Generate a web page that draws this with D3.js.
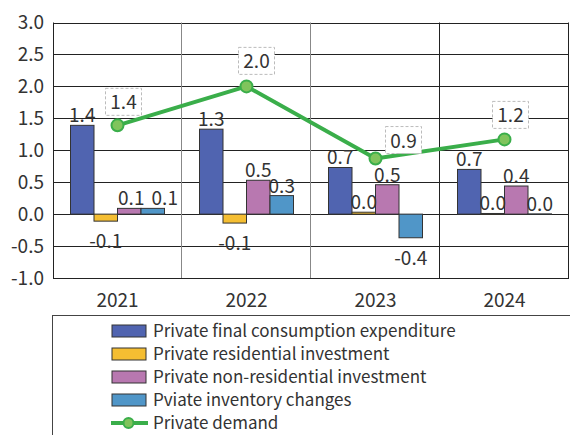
<!DOCTYPE html>
<html>
<head>
<meta charset="utf-8">
<script src="https://cdn.jsdelivr.net/npm/d3@7"></script>
<style>
  body { margin: 0; background: #fff; }
  svg text { font-family: "Noto Sans CJK JP", "Noto Sans", sans-serif; fill: #333; }
</style>
</head>
<body>
<svg width="570" height="435"></svg>
<script>
// chart data
const years = ["2021", "2022", "2023", "2024"];
const seriesNames = [
  "Private final consumption expenditure",
  "Private residential investment",
  "Private non-residential investment",
  "Pviate inventory changes"
];
const consumption = [1.39, 1.33, 0.73, 0.70];
const residential = [-0.11, -0.14, 0.03, 0.01];
const nonResidential = [0.09, 0.53, 0.46, 0.44];
const inventory = [0.09, 0.29, -0.37, 0.004];
const privateDemand = [1.39, 2.0, 0.87, 1.17];
const demandName = "Private demand";
const yTicks = [-1.0, -0.5, 0.0, 0.5, 1.0, 1.5, 2.0, 2.5, 3.0];

// label nudges (layout only)
const lineLabelDx = [6, 10, 28, 6];
const lineLabelDy = [-10, -12, -5, -11];
const barLabelDx = (si, yi) => (yi === 0 && si === 2) ? 2 : (yi === 0 && si === 3) ? 12 : 0;

const colors = ["#5064b0", "#f5be32", "#b878b0", "#5096c8"];
const green = "#3aae4a", greenFill = "#80c45c";

const svg = d3.select("svg");
const mLeft = 53, mRight = 569, mTop = 22.5, mBottom = 278;
const fmt = v => v.toFixed(1);

const x = d3.scaleBand().domain(years).range([mLeft, mRight]);
const x1 = d3.scaleBand().domain(d3.range(4))
  .range([17.5, x.bandwidth() - 17.5]);
const y = d3.scaleLinear().domain([-1, 3]).range([mBottom, mTop]);

const series = [consumption, residential, nonResidential, inventory];

// grid
let ggrid = svg.append("g").attr('class', 'grid');
ggrid.selectAll("line.h").data(yTicks).enter().append("line")
  .attr("x1", mLeft).attr("x2", mRight)
  .attr("y1", d => Math.round(y(d)) + 0.5).attr("y2", d => Math.round(y(d)) + 0.5)
  .attr("stroke", "#222").attr("stroke-width", 1);

const seps = years.slice(1).concat([null]);
ggrid.selectAll("line.v").data(seps).enter().append("line")
  .attr("x1", d => Math.round(d ? x(d) : mRight) - 0.5)
  .attr("x2", d => Math.round(d ? x(d) : mRight) - 0.5)
  .attr("y1", mTop).attr("y2", mBottom)
  .attr("stroke", (d, i) => i < 2 ? "#888" : "#222").attr("stroke-width", 1);

ggrid.append("line")
  .attr("x1", mLeft + 0.5).attr("x2", mLeft + 0.5)
  .attr("y1", mTop).attr("y2", mBottom)
  .attr("stroke", "#222");

// y tick labels
svg.append("g").selectAll("text").data(yTicks).enter().append("text")
  .attr("x", 44).attr("y", d => y(d))
  .attr("dy", "0.35em")
  .attr("text-anchor", "end")
  .attr("font-size", 19)
  .text(d => fmt(d));

// year labels
svg.append("g").selectAll("text").data(years).enter().append("text")
  .attr("x", d => x(d) + x.bandwidth() / 2)
  .attr("y", 307)
  .attr("text-anchor", "middle")
  .attr("font-size", 19)
  .text(d => d);

// bars
let gbars = svg.append("g").attr('class', 'bars');
const barData = [];
series.forEach((s, si) => s.forEach((v, yi) => barData.push({ si, yi, v })));

gbars.selectAll("rect").data(barData).enter().append("rect")
  .attr("x", d => x(years[d.yi]) + x1(d.si))
  .attr("width", x1.bandwidth())
  .attr("y", d => y(Math.max(0, d.v)))
  .attr("height", d => Math.abs(y(d.v) - y(0)))
  .attr("fill", d => colors[d.si])
  .attr("stroke", "#333").attr("stroke-width", 1);

// bar labels
svg.append("g").selectAll("text").data(barData).enter().append("text")
  .attr("x", d => x(years[d.yi]) + x1(d.si) + x1.bandwidth() / 2 + barLabelDx(d.si, d.yi))
  .attr("y", d => d.v >= 0 ? y(d.v) - 3 : y(d.v) + 27)
  .attr("text-anchor", "middle")
  .attr("font-size", 19)
  .text(d => fmt(d.v));

// line
const cx = i => x(years[i]) + x.bandwidth() / 2;
svg.append("path")
  .datum(privateDemand)
  .attr("fill", "none")
  .attr("stroke", green)
  .attr("stroke-width", 4)
  .attr("stroke-linejoin", "round")
  .attr("d", d3.line().x((d, i) => cx(i)).y(d => y(d)));

svg.append("g").selectAll("circle").data(privateDemand).enter().append("circle")
  .attr("cx", (d, i) => cx(i)).attr("cy", d => y(d))
  .attr("r", 6)
  .attr("fill", greenFill).attr("stroke", green).attr("stroke-width", 2);

// line labels in dashed boxes
let glab = svg.append("g").attr('class', 'linelabels');
const lab = glab.selectAll("g").data(privateDemand).enter().append("g")
  .attr("transform", (d, i) => `translate(${cx(i) + lineLabelDx[i]},${y(d) + lineLabelDy[i]})`);
lab.append("rect")
  .attr("x", -18).attr("y", -27).attr("width", 36).attr("height", 27)
  .attr("fill", "#fff").attr("stroke", "#bbb").attr("stroke-width", 1)
  .attr("stroke-dasharray", "3,2");
lab.append("text")
  .attr("x", 0).attr("y", -6)
  .attr("text-anchor", "middle")
  .attr("font-size", 19)
  .text(d => fmt(d));

// legend
let gleg = svg.append("g").attr('class', 'legend');
gleg.append("rect")
  .attr("x", 52.5).attr("y", 315.5).attr("width", 530).attr("height", 140)
  .attr("fill", "#fff").attr("stroke", "#444").attr("stroke-width", 1);

const rowY = i => 331 + i * 23;
seriesNames.forEach((name, i) => {
  gleg.append("rect")
    .attr("x", 112).attr("y", rowY(i) - 6).attr("width", 34).attr("height", 12)
    .attr("fill", colors[i]).attr("stroke", "#333").attr("stroke-width", 1);
  gleg.append("text")
    .attr("x", 153).attr("y", rowY(i)).attr("dy", "0.35em")
    .attr("font-size", 17)
    .text(name);
});
gleg.append("line")
  .attr("x1", 111).attr("x2", 148).attr("y1", rowY(4)).attr("y2", rowY(4))
  .attr("stroke", green).attr("stroke-width", 4);
gleg.append("circle")
  .attr("cx", 128.5).attr("cy", rowY(4)).attr("r", 5)
  .attr("fill", greenFill).attr("stroke", green).attr("stroke-width", 2);
gleg.append("text")
  .attr("x", 153).attr("y", rowY(4)).attr("dy", "0.35em")
  .attr("font-size", 17)
  .text(demandName);
</script>
</body>
</html>
